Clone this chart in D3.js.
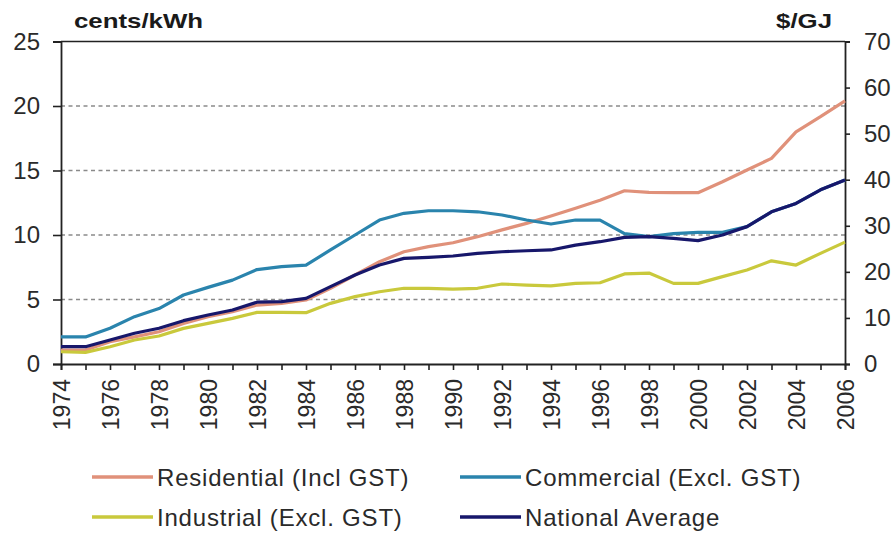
<!DOCTYPE html>
<html>
<head>
<meta charset="utf-8">
<script src="https://cdn.jsdelivr.net/npm/d3@7/dist/d3.min.js"></script>
<style>
  html, body { margin: 0; padding: 0; background: #fff; }
  svg { display: block; font-family: "Liberation Sans", Arial, sans-serif; }
</style>
</head>
<body>
<svg id="chart" width="896" height="533"></svg>
<script>
// Electricity prices by sector, cents/kWh (right axis shows the same scale in $/GJ)
const years = d3.range(1974, 2007);

const residential = [1.08, 1.08, 1.73, 2.1, 2.5, 3.15, 3.67, 4.06, 4.57, 4.7, 4.96,
  5.87, 6.9, 7.93, 8.7, 9.1, 9.4, 9.87, 10.4, 10.9, 11.47, 12.07, 12.7, 13.43,
  13.3, 13.28, 13.28, 14.13, 15.04, 15.94, 18.0, 19.17, 20.4];

const commercial = [2.1, 2.1, 2.77, 3.67, 4.3, 5.35, 5.94, 6.5, 7.32, 7.55, 7.67,
  8.84, 10.0, 11.16, 11.68, 11.88, 11.88, 11.8, 11.55, 11.16, 10.85, 11.16, 11.16,
  10.1, 9.87, 10.1, 10.2, 10.2, 10.65, 11.8, 12.45, 13.5, 14.26];

const industrial = [0.95, 0.9, 1.34, 1.86, 2.17, 2.76, 3.15, 3.54, 4.0, 4.0, 3.98,
  4.7, 5.22, 5.6, 5.87, 5.87, 5.8, 5.87, 6.2, 6.12, 6.05, 6.25, 6.3, 6.98,
  7.05, 6.25, 6.25, 6.77, 7.29, 8.0, 7.67, 8.58, 9.45];

const nationalAverage = [1.34, 1.34, 1.86, 2.38, 2.77, 3.36, 3.8, 4.19, 4.79, 4.83, 5.09,
  6.0, 6.9, 7.67, 8.19, 8.27, 8.37, 8.58, 8.7, 8.78, 8.84, 9.22, 9.48, 9.82,
  9.87, 9.74, 9.56, 10.0, 10.65, 11.8, 12.45, 13.5, 14.26];

const seriesNames = ["Residential (Incl GST)", "Commercial (Excl. GST)",
  "Industrial (Excl. GST)", "National Average"];
const seriesColors = ["#e0917a", "#2a84ad", "#c9c93c", "#17176b"];
const seriesValues = [residential, commercial, industrial, nationalAverage];

const leftTicks = [0, 5, 10, 15, 20, 25];
const rightTicks = [0, 10, 20, 30, 40, 50, 60, 70];
const yearLabels = d3.range(1974, 2007, 2);

const svg = d3.select("#chart");
const plot = { left: 61, right: 845, top: 41.5, bottom: 364 };

const x = d3.scaleLinear().domain([1974, 2006]).range([plot.left, plot.right]);
const y = d3.scaleLinear().domain([0, 25]).range([plot.bottom, plot.top]);
const y2 = d3.scaleLinear().domain([0, 70]).range([plot.bottom, plot.top]);

// dashed horizontal gridlines
svg.append("g")
  .selectAll("line")
  .data(leftTicks.filter(t => t > 0 && t < 25))
  .join("line")
  .attr("x1", plot.left).attr("x2", plot.right)
  .attr("y1", d => y(d)).attr("y2", d => y(d))
  .attr("stroke", "#8a8a8a")
  .attr("stroke-width", 1.4)
  .attr("stroke-dasharray", "4,3.5");

// top frame line
svg.append("line")
  .attr("x1", plot.left).attr("x2", plot.right)
  .attr("y1", y(25)).attr("y2", y(25))
  .attr("stroke", "#222").attr("stroke-width", 1.6);

// left axis
const leftAxis = svg.append("g")
  .attr("transform", `translate(${plot.left},0)`)
  .call(d3.axisLeft(y).tickValues(leftTicks).tickSize(8).tickPadding(13).tickFormat(d3.format("d")));

// right axis
const rightAxis = svg.append("g")
  .attr("transform", `translate(${plot.right},0)`)
  .call(d3.axisRight(y2).tickValues(rightTicks).tickSize(5).tickPadding(14).tickFormat(d3.format("d")));

// bottom axis: a tick every year, labels every second year
const bottomAxis = svg.append("g")
  .attr("transform", `translate(0,${plot.bottom})`)
  .call(d3.axisBottom(x).tickValues(years).tickSize(6)
    .tickFormat(d => yearLabels.includes(d) ? String(d) : ""));

[leftAxis, rightAxis, bottomAxis].forEach(g => {
  g.select(".domain").attr("stroke", "#222").attr("stroke-width", 1.8);
  g.selectAll(".tick line").attr("stroke", "#222").attr("stroke-width", 1.6);
  g.selectAll("text").attr("fill", "#2a2a2a").attr("font-size", 24);
});

bottomAxis.selectAll("text")
  .attr("font-size", 23)
  .attr("text-anchor", "end")
  .attr("transform", "rotate(-90)")
  .attr("x", -15)
  .attr("y", 0)
  .attr("dy", "0.36em");

// unit titles
svg.append("text")
  .attr("transform", "translate(74,28) scale(1.23,1)")
  .attr("font-size", 21).attr("font-weight", "bold").attr("fill", "#1a1a1a")
  .text("cents/kWh");
svg.append("text")
  .attr("transform", "translate(832,28) scale(1.23,1)")
  .attr("text-anchor", "end")
  .attr("font-size", 21).attr("font-weight", "bold").attr("fill", "#1a1a1a")
  .text("$/GJ");

// series lines
const line = d3.line()
  .x((d, i) => x(years[i]))
  .y(d => y(d));

svg.append("g")
  .selectAll("path")
  .data(seriesValues)
  .join("path")
  .attr("d", d => line(d))
  .attr("fill", "none")
  .attr("stroke", (d, i) => seriesColors[i])
  .attr("stroke-width", 3.2)
  .attr("stroke-linejoin", "round");

// legend
const legendPos = [
  { lx: 92, ly: 477 }, { lx: 460, ly: 477 },
  { lx: 92, ly: 517 }, { lx: 460, ly: 517 }
];
const legend = svg.append("g")
  .selectAll("g")
  .data(seriesNames)
  .join("g")
  .attr("transform", (d, i) => `translate(${legendPos[i].lx},${legendPos[i].ly})`);
legend.append("line")
  .attr("x1", 0).attr("x2", 61).attr("y1", 0).attr("y2", 0)
  .attr("stroke", (d, i) => seriesColors[i])
  .attr("stroke-width", 3.5);
legend.append("text")
  .attr("x", 65).attr("y", 0).attr("dy", "0.36em")
  .attr("font-size", 24).attr("letter-spacing", 0.8).attr("fill", "#2a2a2a")
  .text(d => d);
</script>
</body>
</html>
